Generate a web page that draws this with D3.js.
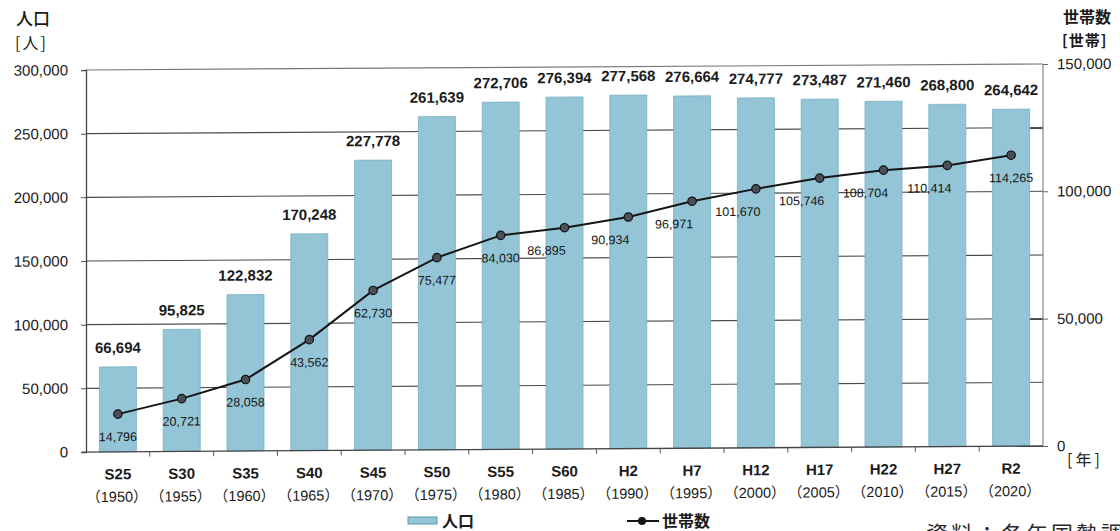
<!DOCTYPE html>
<html lang="ja">
<head>
<meta charset="utf-8">
<script src="https://cdn.jsdelivr.net/npm/d3@7"></script>
<style>
  html, body { margin: 0; padding: 0; background: #fff; }
  svg { display: block; }
  .num { font-family: "Liberation Sans", Arial, sans-serif; }
  .cjk { font-family: "Noto Sans CJK JP", sans-serif; }
  .mix { font-family: "Liberation Sans", "Noto Sans CJK JP", sans-serif; }
</style>
</head>
<body>
<svg id="chart" width="1120" height="531"></svg>
<script>
// 国勢調査の年次（和暦・西暦）
const categories = ["S25","S30","S35","S40","S45","S50","S55","S60","H2","H7","H12","H17","H22","H27","R2"];
const years = ["1950","1955","1960","1965","1970","1975","1980","1985","1990","1995","2000","2005","2010","2015","2020"];
// 人口［人］
const population = [66694, 95825, 122832, 170248, 227778, 261639, 272706, 276394, 277568, 276664, 274777, 273487, 271460, 268800, 264642];
// 世帯数［世帯］
const households = [14796, 20721, 28058, 43562, 62730, 75477, 84030, 86895, 90934, 96971, 101670, 105746, 108704, 110414, 114265];
// 目盛
const popTicks = [0, 50000, 100000, 150000, 200000, 250000, 300000];
const hhTicks = [0, 50000, 100000, 150000];

const svg = d3.select("#chart");
const plotLeft = 86, plotRight = 1043, plotTop = 70, plotBottom = 452;
const fmt = d3.format(",");

const barFill = "#93c5d7", barStroke = "#79afc3";

// slight tilt of the plot drawing
const g = svg.append("g")
  .attr("transform", `translate(${plotLeft},0) skewY(-0.36) translate(${-plotLeft},0)`);

const x = d3.scaleBand().domain(categories).range([plotLeft, plotRight])
  .paddingInner(0.42).paddingOuter(0.21);
const yL = d3.scaleLinear().domain([0, 300000]).range([plotBottom, plotTop]);
const yR = d3.scaleLinear().domain([0, 150000]).range([plotBottom, plotTop]);

// gridlines
g.append("g").selectAll("line")
  .data(popTicks.filter(t => t > 0 && t < 300000))
  .join("line")
  .attr("x1", plotLeft).attr("x2", plotRight)
  .attr("y1", d => yL(d)).attr("y2", d => yL(d))
  .attr("stroke", "#4a4a4a").attr("stroke-width", 1.1);

// frame: top and right
g.append("line").attr("x1", plotLeft).attr("x2", plotRight).attr("y1", plotTop).attr("y2", plotTop)
  .attr("stroke", "#777").attr("stroke-width", 1.2);
g.append("line").attr("x1", plotRight).attr("x2", plotRight).attr("y1", plotTop).attr("y2", plotBottom)
  .attr("stroke", "#888").attr("stroke-width", 1.2);

// bars
g.append("g").selectAll("rect")
  .data(population)
  .join("rect")
  .attr("x", (d, i) => x(categories[i]))
  .attr("y", d => yL(d))
  .attr("width", x.bandwidth())
  .attr("height", d => plotBottom - yL(d))
  .attr("fill", barFill)
  .attr("stroke", barStroke)
  .attr("stroke-width", 0.8);

// bar value labels
g.append("g").selectAll("text")
  .data(population)
  .join("text")
  .attr("class", "num")
  .attr("x", (d, i) => x(categories[i]) + x.bandwidth() / 2)
  .attr("y", d => yL(d) - 14)
  .attr("text-anchor", "middle")
  .attr("font-size", 15)
  .attr("font-weight", "bold")
  .attr("fill", "#1b1b1b")
  .text(d => fmt(d));

// left axis
const axL = g.append("g").attr("transform", `translate(${plotLeft},0)`)
  .call(d3.axisLeft(yL).tickValues(popTicks).tickFormat(fmt).tickSize(5).tickPadding(13));
axL.select(".domain").attr("stroke", "#444").attr("stroke-width", 1.3);
axL.selectAll(".tick line").attr("stroke", "#555");
axL.selectAll("text").attr("font-size", 15).attr("fill", "#1a1a1a")
  .attr("font-family", "Liberation Sans, Arial, sans-serif");

// right axis
const axR = g.append("g").attr("transform", `translate(${plotRight},0)`)
  .call(d3.axisRight(yR).tickValues(hhTicks).tickFormat(fmt).tickSize(5).tickPadding(9));
axR.select(".domain").remove();
axR.selectAll(".tick line").attr("stroke", "#666");
axR.selectAll("text").attr("font-size", 15).attr("fill", "#1a1a1a")
  .attr("font-family", "Liberation Sans, Arial, sans-serif");

// bottom axis: baseline and boundary ticks
g.append("line").attr("x1", plotLeft - 4).attr("x2", plotRight).attr("y1", plotBottom).attr("y2", plotBottom)
  .attr("stroke", "#444").attr("stroke-width", 1.3);
const gap = x.step() - x.bandwidth();
g.append("g").selectAll("line")
  .data(categories.slice(1))
  .join("line")
  .attr("x1", d => x(d) - gap / 2)
  .attr("x2", d => x(d) - gap / 2)
  .attr("y1", plotBottom).attr("y2", plotBottom + 5)
  .attr("stroke", "#555");

// category labels
const xl = g.append("g");
xl.selectAll("text.era")
  .data(categories)
  .join("text")
  .attr("class", "num era")
  .attr("x", d => x(d) + x.bandwidth() / 2)
  .attr("y", 479.5)
  .attr("text-anchor", "middle")
  .attr("font-size", 15)
  .attr("font-weight", "bold")
  .attr("fill", "#1b1b1b")
  .text(d => d);
xl.selectAll("text.yr")
  .data(years)
  .join("text")
  .attr("class", "mix yr")
  .attr("x", (d, i) => x(categories[i]) + x.bandwidth() / 2 - 1)
  .attr("y", 502)
  .attr("text-anchor", "middle")
  .attr("font-size", 14.5)
  .attr("fill", "#1b1b1b")
  .text(d => `（${d}）`);

// household line
const cx = i => x(categories[i]) + x.bandwidth() / 2;
const line = d3.line().x((d, i) => cx(i)).y(d => yR(d));
g.append("path")
  .datum(households)
  .attr("d", line)
  .attr("fill", "none")
  .attr("stroke", "#151515")
  .attr("stroke-width", 2);
g.append("g").selectAll("circle")
  .data(households)
  .join("circle")
  .attr("cx", (d, i) => cx(i))
  .attr("cy", d => yR(d))
  .attr("r", 4.2)
  .attr("fill", "#4a4f55")
  .attr("stroke", "#111")
  .attr("stroke-width", 1.2);

// household value labels (the middle run sits a little to the left of its point)
const nudge = i => (i >= 7 && i <= 13) ? -18 : 0;
g.append("g").selectAll("text")
  .data(households)
  .join("text")
  .attr("class", "num")
  .attr("x", (d, i) => cx(i) + nudge(i))
  .attr("y", d => yR(d) + 27)
  .attr("text-anchor", "middle")
  .attr("font-size", 12.5)
  .attr("fill", "#141414")
  .text(d => fmt(d));

// year unit
g.append("text").attr("class", "cjk").attr("x", 1067).attr("y", 472)
  .attr("font-size", 16).attr("letter-spacing", 3).attr("fill", "#1a1a1a").text("[年]");

// axis titles
svg.append("text").attr("class", "cjk").attr("x", 16).attr("y", 24.5)
  .attr("font-size", 17).attr("font-weight", 500).attr("fill", "#1a1a1a").text("人口");
svg.append("text").attr("class", "cjk").attr("x", 15).attr("y", 49)
  .attr("font-size", 16).attr("letter-spacing", 2).attr("fill", "#1a1a1a").text("[人]");
svg.append("text").attr("class", "cjk").attr("x", 1063).attr("y", 23)
  .attr("font-size", 16).attr("font-weight", "bold").attr("fill", "#1a1a1a").text("世帯数");
svg.append("text").attr("class", "cjk").attr("x", 1062).attr("y", 46)
  .attr("font-size", 15).attr("font-weight", "bold").attr("letter-spacing", 1).attr("fill", "#1a1a1a").text("[世帯]");

// legend
const lg = svg.append("g");
lg.append("rect").attr("x", 408).attr("y", 517).attr("width", 29).attr("height", 7)
  .attr("fill", barFill).attr("stroke", "#5f98ad").attr("stroke-width", 1);
lg.append("text").attr("class", "cjk").attr("x", 442).attr("y", 527)
  .attr("font-size", 16).attr("font-weight", "bold").attr("fill", "#1a1a1a").text("人口");
lg.append("line").attr("x1", 627).attr("x2", 659).attr("y1", 521).attr("y2", 521)
  .attr("stroke", "#151515").attr("stroke-width", 2);
lg.append("circle").attr("cx", 642).attr("cy", 521).attr("r", 4)
  .attr("fill", "#151515");
lg.append("text").attr("class", "cjk").attr("x", 662).attr("y", 527)
  .attr("font-size", 16).attr("font-weight", "bold").attr("fill", "#1a1a1a").text("世帯数");

// source note along the bottom edge
svg.append("text").attr("class", "cjk").attr("x", 926).attr("y", 542)
  .attr("font-size", 22).attr("letter-spacing", 3).attr("fill", "#2a2a2a").text("資料：各年国勢調査");
</script>
</body>
</html>
